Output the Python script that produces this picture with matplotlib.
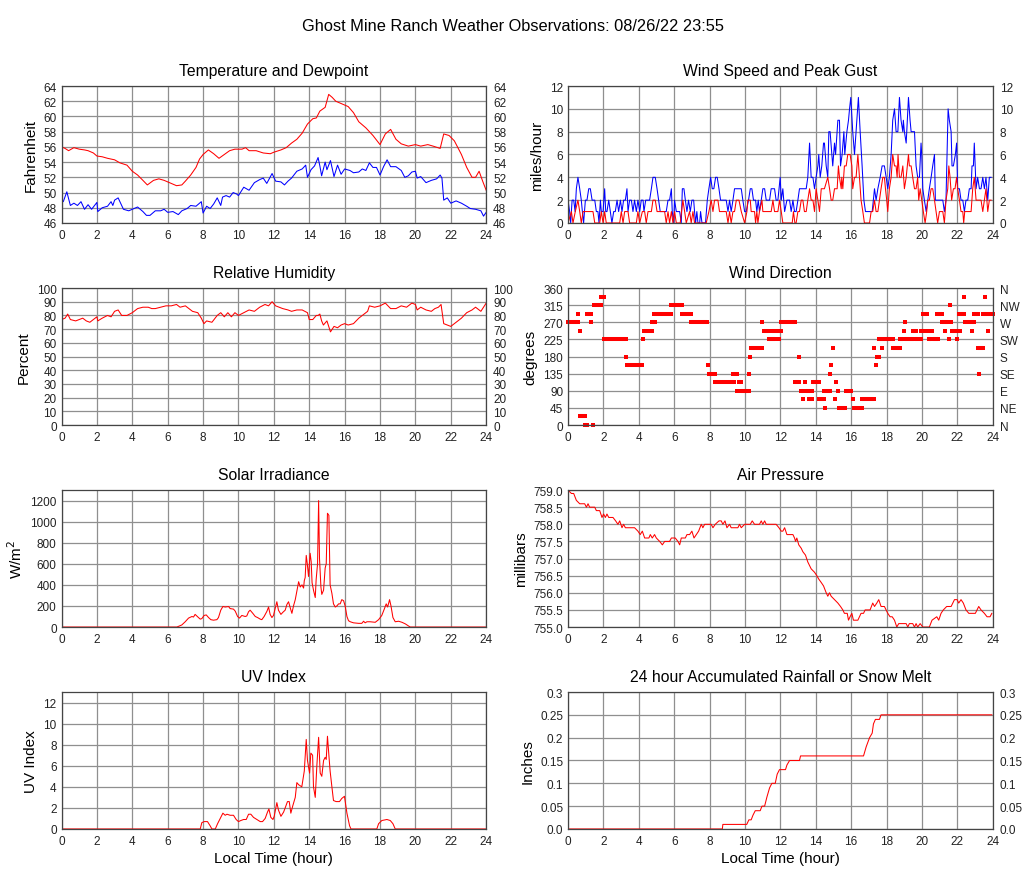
import numpy as np
import matplotlib
matplotlib.use("Agg")
import matplotlib.pyplot as plt
from matplotlib.ticker import FormatStrFormatter

plt.rcParams['font.family'] = ['Liberation Sans', 'DejaVu Sans']

# ---- data (hours, values) ----
temp_t = [0, 0.2, 0.4, 0.7, 1.0, 1.3, 1.5, 1.8, 2.0, 2.3, 2.6, 3.0, 3.3, 3.7, 4.0, 4.3, 4.6, 4.85,
          5.2, 5.5, 5.8, 6.2, 6.5, 6.8, 7.0, 7.3, 7.6, 7.8, 8.0, 8.3, 8.6, 8.9, 9.2, 9.5, 9.8, 10.2,
          10.4, 10.6, 11.0, 11.4, 11.8, 12.0, 12.4, 12.7, 13.0, 13.3, 13.6, 13.9, 14.2, 14.4, 14.6,
          14.9, 15.1, 15.3, 15.5, 15.8, 16.2, 16.5, 16.8, 17.2, 17.6, 18.0, 18.3, 18.6, 18.9, 19.2,
          19.6, 20.0, 20.3, 20.7, 21.0, 21.4, 21.6, 21.9, 22.2, 22.6, 22.9, 23.2, 23.4, 23.6, 23.8, 24.0]
temp_f = [56.0, 55.8, 55.5, 55.9, 55.7, 55.6, 55.5, 55.2, 54.8, 54.7, 54.5, 54.3, 53.9, 53.6, 52.8,
          52.3, 51.6, 51.0, 51.6, 51.8, 51.6, 51.2, 50.9, 51.0, 51.5, 52.3, 53.3, 54.4, 55.0, 55.6,
          55.1, 54.5, 55.0, 55.5, 55.7, 55.7, 55.9, 55.5, 55.5, 55.2, 55.1, 55.3, 55.6, 55.9, 56.5,
          57.0, 57.8, 59.0, 59.7, 59.8, 60.7, 61.2, 62.9, 62.5, 62.0, 61.7, 61.3, 60.5, 59.3, 58.5,
          57.5, 56.3, 57.7, 58.3, 57.0, 56.4, 56.1, 56.3, 56.1, 56.3, 56.1, 55.8, 57.7, 57.5, 56.8,
          55.0, 53.3, 52.0, 52.0, 52.8, 51.5, 50.3]

dew_t = [0, 0.1, 0.3, 0.5, 0.7, 0.9, 1.1, 1.3, 1.5, 1.7, 2.0, 2.05, 2.3, 2.6, 2.8, 2.9, 3.0, 3.2,
         3.5, 3.8, 4.0, 4.3, 4.6, 4.8, 5.0, 5.3, 5.6, 5.8, 6.0, 6.3, 6.6, 6.8, 7.1, 7.3, 7.6, 7.9,
         8.0, 8.2, 8.4, 8.6, 8.8, 9.0, 9.1, 9.3, 9.5, 9.7, 9.9, 10.0, 10.3, 10.6, 10.9, 11.2, 11.4,
         11.6, 11.9, 12.1, 12.4, 12.6, 12.8, 13.0, 13.3, 13.6, 13.8, 13.9, 14.1, 14.3, 14.5, 14.6,
         14.7, 14.9, 15.0, 15.2, 15.4, 15.6, 15.8, 16.0, 16.3, 16.5, 16.8, 17.0, 17.2, 17.4, 17.6,
         17.8, 18.0, 18.2, 18.4, 18.6, 18.9, 19.2, 19.4, 19.6, 19.8, 20.0, 20.1, 20.3, 20.6, 20.9,
         21.2, 21.4, 21.5, 21.6, 21.8, 22.0, 22.3, 22.6, 22.9, 23.1, 23.4, 23.7, 23.85, 24.0]
dew_f = [49.0, 48.8, 50.1, 48.3, 48.6, 48.3, 48.8, 47.8, 48.4, 47.8, 48.7, 47.5, 48.0, 48.2, 48.8,
         48.3, 49.0, 49.3, 47.8, 47.6, 47.8, 48.1, 47.5, 47.0, 47.0, 47.6, 47.6, 47.8, 47.4, 47.5,
         47.1, 47.6, 47.9, 48.3, 48.2, 48.8, 47.3, 48.2, 47.9, 48.5, 49.3, 48.3, 49.4, 49.6, 49.4,
         50.0, 49.8, 49.6, 50.7, 50.3, 51.3, 51.7, 51.9, 51.2, 52.5, 51.5, 51.4, 51.0, 51.5, 51.9,
         52.8, 53.1, 53.6, 52.0, 53.0, 53.5, 54.6, 53.5, 52.2, 54.0, 53.0, 54.2, 52.1, 53.6, 52.4,
         53.1, 52.9, 52.6, 52.7, 53.1, 52.9, 53.9, 53.3, 53.3, 52.3, 53.4, 54.3, 53.4, 53.4, 52.9,
         52.0, 52.2, 52.7, 52.8, 51.9, 52.1, 51.3, 51.6, 51.8, 52.3, 51.9, 49.0, 49.3, 48.6, 48.9,
         48.6, 48.2, 47.9, 47.8, 47.6, 46.9, 47.4]

gust_t = [0, 0.09, 0.15, 0.23, 0.32, 0.40, 0.47, 0.56, 0.66, 0.75, 0.81, 0.88, 0.98, 1.07, 1.17,
          1.26, 1.36, 1.51, 1.60, 1.69, 1.75, 1.83, 1.88, 1.98, 2.07, 2.13, 2.20, 2.30, 2.39, 2.48,
          2.58, 2.67, 2.77, 2.86, 2.96, 3.05, 3.14, 3.24, 3.33, 3.39, 3.48, 3.58, 3.67, 3.76, 3.86,
          3.95, 4.05, 4.14, 4.24, 4.29, 4.39, 4.52, 4.61, 4.71, 4.80, 4.93, 5.03, 5.12, 5.21, 5.55,
          5.65, 5.74, 5.84, 5.89, 5.97, 6.02, 6.12, 6.31, 6.40, 6.46, 6.55, 6.63, 6.72, 6.81, 6.91,
          7.00, 7.10, 7.15, 7.21, 7.28, 7.34, 7.44, 7.49, 7.57, 7.77, 7.87, 7.96, 8.06, 8.15, 8.24,
          8.34, 8.43, 8.53, 8.62, 8.94, 9.04, 9.13, 9.22, 9.32, 9.41, 9.79, 9.88, 9.98, 10.07, 10.20,
          10.30, 10.39, 10.48, 10.60, 10.67, 10.75, 10.82, 10.92, 11.01, 11.11, 11.20, 11.39, 11.48,
          11.58, 11.67, 11.76, 11.86, 11.99, 12.05, 12.14, 12.24, 12.37, 12.52, 12.61, 12.71, 12.80,
          12.89, 12.99, 13.08, 13.46, 13.55, 13.65, 13.74, 13.84, 13.93, 14.02, 14.12, 14.17, 14.25,
          14.34, 14.44, 14.49, 14.59, 14.68, 14.74, 14.81, 14.91, 14.96, 15.06, 15.12, 15.25, 15.34,
          15.40, 15.49, 15.59, 15.64, 15.76, 15.85, 15.91, 15.98, 16.09, 16.19, 16.28, 16.41, 16.51,
          16.62, 16.72, 16.81, 17.04, 17.19, 17.32, 17.41, 17.51, 17.64, 17.75, 17.88, 17.98, 18.07,
          18.16, 18.26, 18.35, 18.45, 18.54, 18.64, 18.73, 18.82, 18.92, 18.95, 19.01, 19.11, 19.24,
          19.33, 19.39, 19.58, 19.67, 19.76, 19.86, 19.95, 19.99, 20.05, 20.14, 20.24, 20.33, 20.42,
          20.52, 20.61, 20.71, 20.76, 20.99, 21.18, 21.27, 21.36, 21.48, 21.55, 21.65, 21.70, 21.78,
          21.89, 21.96, 22.02, 22.12, 22.21, 22.31, 22.40, 22.49, 22.59, 22.68, 22.78, 22.83, 22.91,
          22.96, 23.06, 23.15, 23.25, 23.34, 23.44, 23.53, 23.62, 23.72, 23.81, 23.91]
gust_mph = [2, 1, 0, 2, 2, 1, 3, 4, 3, 2, 1, 0, 2, 2, 3, 3, 2, 2, 1, 1, 0, 2, 1, 1, 3, 1, 1, 2, 1,
            0, 1, 1, 2, 1, 2, 1, 2, 2, 3, 1, 2, 2, 1, 2, 1, 2, 1, 2, 2, 1, 2, 2, 2, 3, 4, 4, 3, 2,
            1, 1, 2, 2, 3, 1, 0, 2, 1, 1, 0, 3, 3, 2, 1, 2, 1, 2, 2, 1, 0, 1, 0, 0, 1, 0, 0, 2, 3,
            4, 3, 3, 4, 4, 3, 2, 2, 1, 2, 1, 2, 3, 3, 2, 1, 1, 2, 3, 3, 2, 2, 1, 2, 1, 2, 3, 3, 2,
            2, 3, 3, 3, 2, 2, 4, 2, 3, 1, 2, 2, 1, 2, 1, 1, 2, 3, 3, 4, 7, 4, 4, 3, 4, 5, 6, 4, 5,
            7, 7, 5, 4, 8, 8, 6, 5, 7, 6, 9, 9, 5, 6, 8, 6, 8, 9, 10, 11, 8, 6, 8, 11, 8, 5, 2, 1,
            1, 1, 3, 2, 3, 4, 5, 5, 4, 3, 4, 6, 9, 10, 8, 8, 11, 9, 8, 9, 8, 7, 11, 9, 8, 8, 5, 4,
            4, 7, 6, 3, 2, 1, 2, 3, 4, 5, 6, 2, 2, 2, 1, 2, 10, 9, 8, 5, 5, 6, 7, 3, 3, 2, 2, 1, 2,
            2, 3, 3, 5, 5, 7, 3, 4, 3, 3, 4, 3, 4, 2, 4, 4]

speed_t = [0, 0.19, 0.28, 0.41, 0.56, 0.66, 0.75, 0.85, 0.98, 1.41, 1.51, 1.79, 1.88, 1.98, 2.07,
           2.16, 2.92, 3.01, 3.11, 3.20, 3.39, 3.48, 3.86, 3.95, 4.05, 4.20, 4.33, 4.42, 4.52, 4.71,
           4.80, 4.93, 5.03, 5.18, 5.46, 5.55, 5.65, 5.74, 5.84, 5.93, 6.02, 6.12, 6.34, 6.49, 6.59,
           6.68, 6.87, 6.96, 7.06, 7.15, 7.81, 7.96, 8.09, 8.19, 8.28, 8.47, 8.56, 8.94, 9.04, 9.13,
           9.22, 9.32, 9.41, 9.51, 9.66, 9.79, 9.98, 10.11, 10.16, 10.30, 10.35, 10.54, 10.60, 10.67,
           10.73, 10.82, 10.96, 11.01, 11.39, 11.48, 11.58, 11.67, 11.86, 11.95, 12.05, 12.14, 12.67,
           12.74, 12.82, 12.89, 12.99, 13.08, 13.18, 13.27, 13.36, 13.46, 13.55, 13.65, 13.74, 13.84,
           13.93, 14.02, 14.12, 14.21, 14.31, 14.49, 14.68, 14.78, 14.87, 14.96, 15.06, 15.21, 15.28,
           15.34, 15.44, 15.47, 15.53, 15.62, 15.72, 15.81, 15.94, 16.04, 16.09, 16.19, 16.28, 16.38,
           16.47, 16.56, 16.66, 16.75, 17.04, 17.13, 17.22, 17.32, 17.41, 17.51, 17.60, 17.69, 17.79,
           17.88, 17.94, 18.01, 18.07, 18.16, 18.26, 18.35, 18.45, 18.54, 18.60, 18.65, 18.73, 18.82,
           18.92, 19.01, 19.11, 19.24, 19.29, 19.39, 19.48, 19.58, 19.67, 19.76, 19.82, 19.90, 19.99,
           20.08, 20.18, 20.27, 20.33, 20.42, 20.52, 20.61, 20.71, 20.80, 20.89, 20.99, 21.18, 21.27,
           21.36, 21.46, 21.52, 21.59, 21.68, 21.78, 21.87, 21.96, 22.02, 22.12, 22.21, 22.31, 22.36,
           22.42, 22.78, 22.87, 22.96, 23.06, 23.34, 23.44, 23.53, 23.62, 23.72, 23.81, 23.91]
speed_mph = [0, 1, 0, 1, 2, 1, 0, 1, 1, 1, 0, 0, 1, 0, 1, 0, 0, 1, 0, 1, 1, 0, 0, 1, 0, 1, 1, 0,
             1, 1, 2, 2, 1, 1, 1, 0, 1, 0, 1, 0, 1, 0, 0, 2, 1, 0, 1, 0, 1, 0, 0, 1, 2, 1, 2, 2, 1,
             1, 0, 1, 0, 1, 1, 2, 2, 1, 0, 1, 2, 2, 1, 1, 0, 1, 0, 1, 2, 1, 1, 1, 2, 1, 1, 2, 1, 0,
             0, 1, 0, 0, 1, 1, 2, 2, 1, 1, 2, 3, 2, 2, 1, 3, 2, 1, 3, 3, 4, 3, 2, 2, 3, 3, 5, 4, 3,
             4, 3, 5, 5, 6, 6, 5, 3, 4, 4, 6, 4, 2, 1, 0, 0, 1, 1, 2, 1, 1, 2, 3, 4, 4, 3, 2, 1, 3,
             4, 6, 5, 5, 4, 6, 4, 4, 5, 3, 4, 6, 5, 5, 4, 3, 3, 4, 2, 3, 2, 1, 0, 1, 2, 2, 3, 3, 2,
             1, 0, 1, 1, 0, 2, 3, 5, 4, 2, 3, 3, 4, 3, 2, 1, 1, 0, 1, 1, 3, 4, 2, 2, 1, 2, 3, 1, 2, 2]

rh_t = [0, 0.2, 0.35, 0.5, 0.8, 1.0, 1.2, 1.4, 1.6, 1.8, 2.0, 2.05, 2.3, 2.6, 2.8, 3.0, 3.2, 3.4,
        3.7, 4.0, 4.3, 4.6, 4.9, 5.1, 5.3, 5.6, 5.9, 6.2, 6.5, 6.7, 7.0, 7.2, 7.4, 7.7, 7.9, 8.05,
        8.2, 8.5, 8.8, 9.0, 9.2, 9.4, 9.6, 9.8, 10.0, 10.3, 10.6, 10.9, 11.2, 11.5, 11.7, 11.9, 12.1,
        12.5, 12.8, 13.0, 13.3, 13.6, 13.9, 14.0, 14.2, 14.4, 14.5, 14.6, 14.7, 14.8, 15.0, 15.1,
        15.2, 15.4, 15.6, 15.8, 16.0, 16.2, 16.5, 16.8, 17.1, 17.3, 17.4, 17.7, 18.0, 18.3, 18.6,
        18.9, 19.2, 19.5, 19.8, 20.0, 20.1, 20.3, 20.6, 20.9, 21.1, 21.3, 21.45, 21.6, 21.8, 22.0,
        22.3, 22.6, 22.9, 23.2, 23.4, 23.7, 23.9, 24.0]
rh_pct = [77, 78, 81, 77, 76, 77, 78, 76, 75, 77, 79, 76, 78, 80, 79, 83, 84, 80, 80, 82, 85, 86,
          86, 85, 85, 86, 87, 87, 88, 86, 87, 85, 83, 82, 78, 74, 76, 75, 80, 82, 79, 82, 79, 82,
          80, 82, 84, 83, 86, 88, 87, 90, 87, 85, 84, 83, 84, 84, 82, 77, 77, 80, 80, 81, 76, 73,
          76, 72, 68, 72, 71, 73, 74, 73, 74, 78, 81, 83, 87, 86, 87, 89, 85, 85, 87, 86, 89, 88,
          84, 86, 84, 83, 85, 86, 88, 74, 73, 72, 75, 78, 82, 84, 86, 83, 87, 89]

# wind direction: runs of constant direction (start hour, end hour, degrees)
dir_start = [0.0, 0.56, 0.66, 0.70, 0.94, 1.09, 1.32, 1.41, 1.47, 1.84, 2.03, 3.29, 3.35, 4.23,
             4.29, 4.74, 4.84, 5.80, 6.44, 6.96, 7.90, 7.94, 8.28, 9.35, 9.56, 9.64, 9.79, 10.22,
             10.31, 10.35, 10.97, 11.05, 11.35, 11.54, 11.90, 12.05, 12.80, 13.04, 13.14, 13.30,
             13.42, 13.46, 13.60, 13.80, 13.87, 14.20, 14.44, 14.55, 14.81, 14.87, 14.96, 15.06,
             15.15, 15.25, 15.30, 15.72, 16.09, 16.15, 16.60, 17.32, 17.41, 17.45, 17.60, 17.75,
             18.35, 18.77, 18.97, 19.07, 19.07, 19.48, 19.63, 19.95, 20.05, 20.33, 20.38, 20.57,
             20.61, 20.85, 21.12, 21.32, 21.51, 21.59, 21.65, 21.70, 21.96, 22.08, 22.15, 22.40,
             22.45, 22.81, 22.92, 23.15, 23.24, 23.43, 23.58, 23.75]
dir_end = [0.56, 0.56, 0.66, 0.94, 1.09, 1.28, 1.32, 1.41, 1.88, 2.03, 3.29, 3.29, 4.20, 4.23,
           4.74, 4.93, 5.80, 6.44, 6.96, 7.87, 7.90, 8.28, 9.37, 9.54, 9.56, 9.79, 10.20, 10.22,
           10.31, 10.95, 10.97, 11.35, 11.70, 12.05, 11.90, 12.80, 13.04, 13.04, 13.30, 13.30,
           13.42, 13.65, 13.80, 13.80, 14.20, 14.44, 14.78, 14.55, 14.81, 14.87, 14.96, 15.06,
           15.15, 15.25, 15.68, 16.00, 16.09, 16.60, 17.32, 17.32, 17.41, 17.60, 18.35, 17.75,
           18.77, 18.95, 18.97, 19.07, 19.57, 19.67, 19.95, 20.14, 20.29, 20.33, 20.51, 20.57,
           20.89, 21.12, 21.46, 21.32, 21.51, 21.59, 21.65, 21.93, 21.96, 22.40, 22.15, 22.40,
           22.96, 22.81, 23.15, 23.47, 23.24, 24.00, 23.58, 23.75]
dir_deg = [270, 292.5, 247.5, 22.5, 0, 292.5, 270, 0, 315, 337.5, 225, 180, 157.5, 225, 247.5,
           270, 292.5, 315, 292.5, 270, 157.5, 135, 112.5, 135, 90, 112.5, 90, 135, 180, 202.5,
           270, 247.5, 225, 247.5, 225, 270, 112.5, 180, 90, 67.5, 112.5, 90, 67.5, 90, 112.5,
           67.5, 90, 45, 135, 157.5, 202.5, 67.5, 112.5, 90, 45, 90, 67.5, 45, 67.5, 202.5, 157.5,
           180, 225, 202.5, 202.5, 225, 247.5, 270, 225, 247.5, 225, 247.5, 292.5, 247.5, 225,
           247.5, 225, 292.5, 270, 247.5, 225, 315, 270, 247.5, 225, 292.5, 247.5, 337.5, 270,
           247.5, 292.5, 202.5, 135, 292.5, 337.5, 247.5]

solar_t = [0, 6.52, 6.8, 6.99, 7.18, 7.37, 7.46, 7.55, 7.74, 7.84, 7.93, 8.06, 8.18, 8.31, 8.44,
           8.59, 8.78, 8.87, 9.0, 9.12, 9.25, 9.44, 9.53, 9.72, 9.82, 9.95, 10.06, 10.19, 10.38,
           10.47, 10.57, 10.66, 10.81, 10.95, 11.08, 11.23, 11.32, 11.45, 11.61, 11.7, 11.79, 11.89,
           11.98, 12.08, 12.17, 12.26, 12.4, 12.51, 12.64, 12.74, 12.83, 12.93, 13.02, 13.11, 13.21,
           13.3, 13.4, 13.49, 13.59, 13.68, 13.72, 13.77, 13.83, 13.89, 13.96, 14.05, 14.11, 14.16,
           14.24, 14.34, 14.39, 14.47, 14.53, 14.58, 14.66, 14.71, 14.81, 14.9, 14.96, 15.03, 15.11,
           15.18, 15.28, 15.37, 15.47, 15.56, 15.66, 15.75, 15.84, 15.94, 16.03, 16.13, 16.22, 16.32,
           16.5, 16.79, 16.97, 17.07, 17.16, 17.26, 17.44, 17.73, 17.92, 18.1, 18.24, 18.35, 18.43,
           18.54, 18.62, 18.73, 18.86, 19.05, 19.24, 19.43, 19.61, 19.71, 24.0]
solar_w = [0, 0, 20, 50, 85, 100, 95, 120, 90, 75, 80, 110, 115, 90, 70, 65, 70, 90, 160, 195, 190,
           195, 175, 170, 150, 100, 85, 110, 100, 105, 145, 160, 130, 100, 90, 75, 70, 100, 150, 190,
           120, 90, 110, 180, 240, 160, 120, 140, 160, 215, 240, 180, 130, 200, 260, 340, 430, 380,
           400, 370, 440, 470, 680, 600, 480, 700, 620, 420, 350, 280, 450, 600, 1200, 650, 380, 310,
           350, 560, 600, 1080, 1060, 400, 320, 220, 190, 200, 220, 220, 260, 250, 200, 100, 60, 50,
           40, 35, 35, 55, 40, 50, 50, 45, 70, 110, 170, 220, 190, 260, 200, 90, 50, 55, 45, 30, 10,
           0, 0]

press_t = [0, 0.19, 0.32, 0.47, 0.66, 0.94, 1.04, 1.13, 1.22, 1.51, 1.60, 1.79, 1.92, 2.01, 2.11,
           2.20, 2.30, 2.54, 2.69, 2.82, 2.92, 3.05, 3.14, 3.24, 3.76, 3.95, 4.08, 4.20, 4.33, 4.57,
           4.65, 4.76, 4.89, 4.99, 5.18, 5.33, 5.46, 5.74, 5.84, 6.06, 6.21, 6.31, 6.40, 6.63, 6.72,
           6.87, 7.00, 7.12, 7.25, 7.38, 7.53, 7.62, 7.72, 8.09, 8.19, 8.32, 8.53, 8.66, 8.75, 8.87,
           8.98, 9.13, 9.22, 9.60, 9.69, 9.79, 9.98, 10.30, 10.41, 10.54, 10.82, 10.92, 11.01, 11.11,
           11.20, 11.76, 11.92, 12.05, 12.14, 12.24, 12.37, 12.71, 12.80, 12.86, 12.93, 13.04, 13.18,
           13.27, 13.42, 13.55, 13.74, 13.93, 14.06, 14.17, 14.31, 14.44, 14.59, 14.68, 14.78, 14.87,
           15.06, 15.25, 15.40, 15.53, 15.62, 15.78, 15.85, 15.94, 16.04, 16.13, 16.38, 16.56, 16.70,
           16.79, 17.07, 17.22, 17.32, 17.45, 17.56, 17.69, 17.88, 18.07, 18.20, 18.32, 18.45, 18.58,
           18.69, 19.11, 19.20, 19.29, 19.48, 19.58, 19.67, 19.76, 19.90, 20.05, 20.42, 20.57, 20.84,
           20.95, 21.08, 21.21, 21.40, 21.65, 21.84, 21.99, 22.08, 22.21, 22.34, 22.49, 22.65, 23.02,
           23.21, 23.34, 23.53, 23.68, 23.85, 23.95]
press_mb = [759.0, 758.9, 758.9, 758.7, 758.6, 758.6, 758.5, 758.6, 758.5, 758.5, 758.4, 758.4,
            758.2, 758.3, 758.2, 758.3, 758.2, 758.2, 758.1, 758.0, 758.1, 757.9, 758.0, 757.9,
            757.9, 757.8, 757.7, 757.8, 757.6, 757.6, 757.7, 757.6, 757.7, 757.6, 757.5, 757.4,
            757.5, 757.5, 757.6, 757.6, 757.5, 757.4, 757.6, 757.6, 757.7, 757.7, 757.8, 757.6,
            757.7, 757.8, 758.0, 757.9, 758.0, 758.0, 757.9, 758.0, 758.1, 758.1, 758.0, 758.1,
            757.9, 758.0, 757.9, 757.9, 758.0, 757.9, 758.0, 758.0, 758.1, 758.0, 758.0, 758.1,
            758.0, 758.1, 758.0, 758.0, 757.9, 757.8, 757.8, 757.9, 757.7, 757.7, 757.6, 757.5,
            757.6, 757.4, 757.3, 757.2, 757.1, 756.9, 756.7, 756.6, 756.5, 756.4, 756.3, 756.2,
            756.0, 755.9, 756.0, 755.9, 755.8, 755.7, 755.6, 755.5, 755.4, 755.4, 755.2, 755.3,
            755.4, 755.2, 755.2, 755.4, 755.4, 755.5, 755.5, 755.7, 755.6, 755.7, 755.8, 755.6,
            755.6, 755.4, 755.3, 755.3, 755.2, 755.0, 755.1, 755.1, 755.0, 755.1, 755.1, 755.0,
            755.1, 755.0, 755.1, 755.0, 755.0, 755.2, 755.3, 755.2, 755.4, 755.5, 755.6, 755.6,
            755.8, 755.8, 755.7, 755.8, 755.7, 755.5, 755.4, 755.4, 755.6, 755.5, 755.4, 755.3,
            755.3, 755.4]

uv_t = [0, 7.84, 7.93, 8.06, 8.25, 8.4, 8.5, 8.69, 8.82, 8.97, 9.12, 9.25, 9.35, 9.53, 9.72, 9.87,
        10.0, 10.13, 10.29, 10.44, 10.57, 10.7, 10.85, 11.04, 11.23, 11.36, 11.51, 11.64, 11.72,
        11.83, 11.95, 12.02, 12.17, 12.26, 12.4, 12.55, 12.64, 12.77, 12.87, 12.96, 13.07, 13.21,
        13.3, 13.4, 13.58, 13.72, 13.83, 13.9, 14.02, 14.09, 14.19, 14.24, 14.34, 14.43, 14.53,
        14.62, 14.71, 14.81, 14.9, 14.96, 15.03, 15.11, 15.18, 15.28, 15.37, 15.52, 15.71, 15.84,
        15.99, 16.13, 16.28, 16.36, 17.82, 17.92, 18.1, 18.39, 18.58, 18.73, 18.86, 24.0]
uv_idx = [0, 0, 0.6, 0.7, 0.7, 0.3, 0, 0, 0.5, 1.0, 1.5, 1.3, 1.4, 1.3, 1.3, 0.9, 0.7, 0.8, 0.9,
          0.9, 1.4, 1.4, 1.1, 0.9, 0.7, 0.7, 1.0, 1.6, 1.9, 1.1, 0.9, 1.2, 2.5, 1.8, 1.2, 1.6, 2.0,
          2.6, 2.6, 1.5, 2.2, 3.0, 4.4, 4.2, 4.0, 5.5, 8.5, 6.5, 5.3, 7.2, 7.0, 4.0, 3.0, 6.0, 8.7,
          5.3, 5.0, 6.5, 6.8, 6.6, 8.8, 7.0, 5.5, 4.0, 2.7, 2.6, 2.6, 2.9, 3.1, 1.5, 0.3, 0, 0,
          0.5, 0.8, 0.9, 0.8, 0.5, 0, 0]

rain_t = [0, 8.72, 8.75, 10.1, 10.22, 10.35, 10.45, 10.58, 10.86, 10.96, 11.11, 11.24, 11.39,
          11.52, 11.71, 11.82, 11.95, 12.29, 12.37, 12.52, 13.08, 13.14, 16.7, 16.85, 17.04, 17.19,
          17.26, 17.37, 17.6, 17.69, 23.95]
rain_in = [0, 0, 0.01, 0.01, 0.02, 0.02, 0.03, 0.04, 0.04, 0.05, 0.05, 0.07, 0.09, 0.10, 0.10,
           0.12, 0.13, 0.13, 0.14, 0.15, 0.15, 0.16, 0.16, 0.18, 0.20, 0.21, 0.23, 0.24, 0.24, 0.25,
           0.25]

hour_ticks = list(range(0, 25, 2))
compass = ['N', 'NE', 'E', 'SE', 'S', 'SW', 'W', 'NW', 'N']
rain_labels = ['0.0', '0.05', '0.1', '0.15', '0.2', '0.25', '0.3']

RED = '#ff0000'
BLUE = '#0000ff'
LW = 0.75
TICK_KW = dict(length=0, labelsize=8.5, labelcolor='#222222')

fig = plt.figure(figsize=(10.27, 8.78), dpi=100)
fig.suptitle("Ghost Mine Ranch Weather Observations: 08/26/22 23:55", y=0.978, fontsize=11.8)

col_x = [0.0599, 0.5531]
row_y = [0.7449, 0.5148, 0.2847, 0.0547]
W, H = 0.4135, 0.156


def make_ax(row, col, title, ylabel, ylim, yticks):
    ax = fig.add_axes([col_x[col], row_y[row], W, H])
    ax.set_xlim(0, 24)
    ax.set_xticks(hour_ticks)
    ax.set_ylim(*ylim)
    ax.set_yticks(yticks)
    ax.grid(True, color='#8f8f8f', lw=0.9)
    ax.set_axisbelow(True)
    for s in ax.spines.values():
        s.set_color('#444444')
        s.set_linewidth(0.9)
    ax.tick_params(axis='x', pad=4.5, **TICK_KW)
    ax.tick_params(axis='y', pad=3.5, **TICK_KW)
    ax.set_title(title, fontsize=11.3, pad=8)
    ax.set_ylabel(ylabel, fontsize=11, labelpad=4)
    if row == 3:
        ax.set_xlabel("Local Time (hour)", fontsize=11, labelpad=3)
    return ax


def right_labels(ax, labels=None):
    # duplicate y labels on the right side
    r = ax.twinx()
    r.set_ylim(ax.get_ylim())
    r.set_yticks(ax.get_yticks())
    if labels is not None:
        r.set_yticklabels(labels)
    elif isinstance(ax.yaxis.get_major_formatter(), FormatStrFormatter):
        r.yaxis.set_major_formatter(ax.yaxis.get_major_formatter())
    r.tick_params(axis='y', pad=5, **TICK_KW)
    for s in r.spines.values():
        s.set_visible(False)
    return r


# temperature and dewpoint
ax = make_ax(0, 0, "Temperature and Dewpoint", "Fahrenheit", (46, 64), range(46, 65, 2))
ax.plot(temp_t, temp_f, color=RED, lw=LW)
ax.plot(dew_t, dew_f, color=BLUE, lw=LW)
right_labels(ax)

# wind speed and gust
ax = make_ax(0, 1, "Wind Speed and Peak Gust", "miles/hour", (0, 12), range(0, 13, 2))
ax.plot(gust_t, gust_mph, color=BLUE, lw=LW)
ax.plot(speed_t, speed_mph, color=RED, lw=LW)
right_labels(ax)

# humidity
ax = make_ax(1, 0, "Relative Humidity", "Percent", (0, 100), range(0, 101, 10))
ax.plot(rh_t, rh_pct, color=RED, lw=LW)
right_labels(ax)

# wind direction
ax = make_ax(1, 1, "Wind Direction", "degrees", (0, 360), range(0, 361, 45))
for s, e, d in zip(dir_start, dir_end, dir_deg):
    ax.plot([s, e], [d, d], color=RED, lw=2.9, solid_capstyle='butt',
            marker='s', ms=2.9, mew=0, clip_on=False)
right_labels(ax, compass)

# solar
ax = make_ax(2, 0, "Solar Irradiance", "W/m$^2$", (0, 1300), range(0, 1201, 200))
ax.plot(solar_t, solar_w, color=RED, lw=LW)

# pressure
ax = make_ax(2, 1, "Air Pressure", "millibars", (755, 759), np.arange(755, 759.01, 0.5))
ax.yaxis.set_major_formatter(FormatStrFormatter('%.1f'))
ax.plot(press_t, press_mb, color=RED, lw=LW)

# UV
ax = make_ax(3, 0, "UV Index", "UV Index", (0, 13), range(0, 13, 2))
ax.plot(uv_t, uv_idx, color=RED, lw=LW)

# rain
ax = make_ax(3, 1, "24 hour Accumulated Rainfall or Snow Melt", "Inches", (0, 0.3),
             [0, 0.05, 0.1, 0.15, 0.2, 0.25, 0.3])
ax.set_yticklabels(rain_labels)
ax.plot(rain_t, rain_in, color=RED, lw=LW)
right_labels(ax, rain_labels)

fig.savefig("out.png", dpi=100)
